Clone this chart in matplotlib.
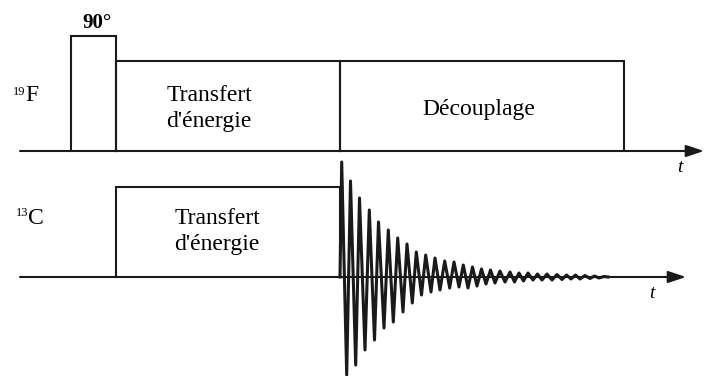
import matplotlib
matplotlib.use("Agg")
import matplotlib.pyplot as plt

# time axis (pixel-like units), channel baselines
axis_start = 20
f19_axis_end = 704
c13_axis_end = 686
f19_base = 151
c13_base = 277

# 19F pulses: (start, end, height)
f19_starts = [71, 116, 340]
f19_ends = [116, 340, 624]
f19_heights = [115, 90, 90]

# 13C pulse
c13_starts = [116]
c13_ends = [340]
c13_heights = [90]

# FID extremes (time, amplitude)
fid_t = [340, 341.7, 346.7, 350.5, 355.7, 359.5, 365.0, 369.3, 374.5, 378.5, 384.0,
         388.3, 393.3, 397.7, 403.0, 407.0, 412.3, 416.3, 421.5, 425.7, 431.0,
         435.0, 440.0, 444.7, 449.7, 454.0, 459.0, 463.3, 468, 472.5, 477,
         481.5, 486, 490.5, 495, 500, 505, 510, 514.5, 519, 523.5,
         528, 533, 537.5, 542, 547, 552, 557, 562, 566.5, 571,
         575.5, 580, 585, 590, 594.5, 599, 604, 608]
fid_a = [0, 115, -98, 96, -88, 79, -73, 67, -63, 55, -51,
         47, -45, 39, -35, 33, -26, 25, -18, 22, -15,
         19, -13, 16, -11, 15, -10, 12, -11, 10, -9,
         8, -7, 7, -6, 6, -5, 5, -5, 4, -4,
         4, -3, 3, -3, 3, -3, 2.5, -2.5, 2, -2,
         2, -2, 1.5, -1.5, 1, -1, 0.5, 0]

serif = "Liberation Serif"
lc = "#1a1a1a"
lw = 1.5

fig = plt.figure(figsize=(7.06, 3.76), dpi=100)
ax = fig.add_axes([0, 0, 1, 1])
ax.set_xlim(0, 706)
ax.set_ylim(376, 0)
ax.axis("off")


def draw_pulses(starts, ends, heights, base):
    for s, e, h in zip(starts, ends, heights):
        ax.plot([s, s, e, e], [base, base - h, base - h, base], color=lc, lw=lw,
                solid_joinstyle="miter")


def draw_axis(end, base):
    ax.annotate("", xy=(end, base), xytext=(axis_start, base),
                arrowprops=dict(arrowstyle="-|>,head_length=0.9,head_width=0.3",
                                mutation_scale=12, color=lc, lw=lw,
                                shrinkA=0, shrinkB=0))


draw_axis(f19_axis_end, f19_base)
draw_axis(c13_axis_end, c13_base)
draw_pulses(f19_starts, f19_ends, f19_heights, f19_base)
draw_pulses(c13_starts, c13_ends, c13_heights, c13_base)

ax.plot(fid_t, [c13_base - a for a in fid_a], color=lc, lw=2.2)

# labels
ax.text(97, 28, "90°", fontfamily=serif, fontsize=15, fontweight="bold",
        ha="center", va="baseline", color="black")
box_font = dict(fontfamily=serif, fontsize=17, ha="center", va="baseline")
ax.text(209, 101, "Transfert", **box_font)
ax.text(209, 127, "d'énergie", **box_font)
ax.text(479, 115, "Découplage", **box_font)
ax.text(217, 224, "Transfert", **box_font)
ax.text(217, 250, "d'énergie", **box_font)

ax.text(25, 101, "F", fontfamily=serif, fontsize=17, ha="left", va="baseline")
ax.text(12.5, 95, "19", fontfamily=serif, fontsize=9, ha="left", va="baseline")
ax.text(28, 224, "C", fontfamily=serif, fontsize=17, ha="left", va="baseline")
ax.text(15.5, 216, "13", fontfamily=serif, fontsize=9, ha="left", va="baseline")

ax.text(680, 172, "t", fontfamily=serif, fontsize=14, style="italic", ha="center", va="baseline")
ax.text(652, 298, "t", fontfamily=serif, fontsize=14, style="italic", ha="center", va="baseline")

fig.savefig("out.png", dpi=100, facecolor="white")
